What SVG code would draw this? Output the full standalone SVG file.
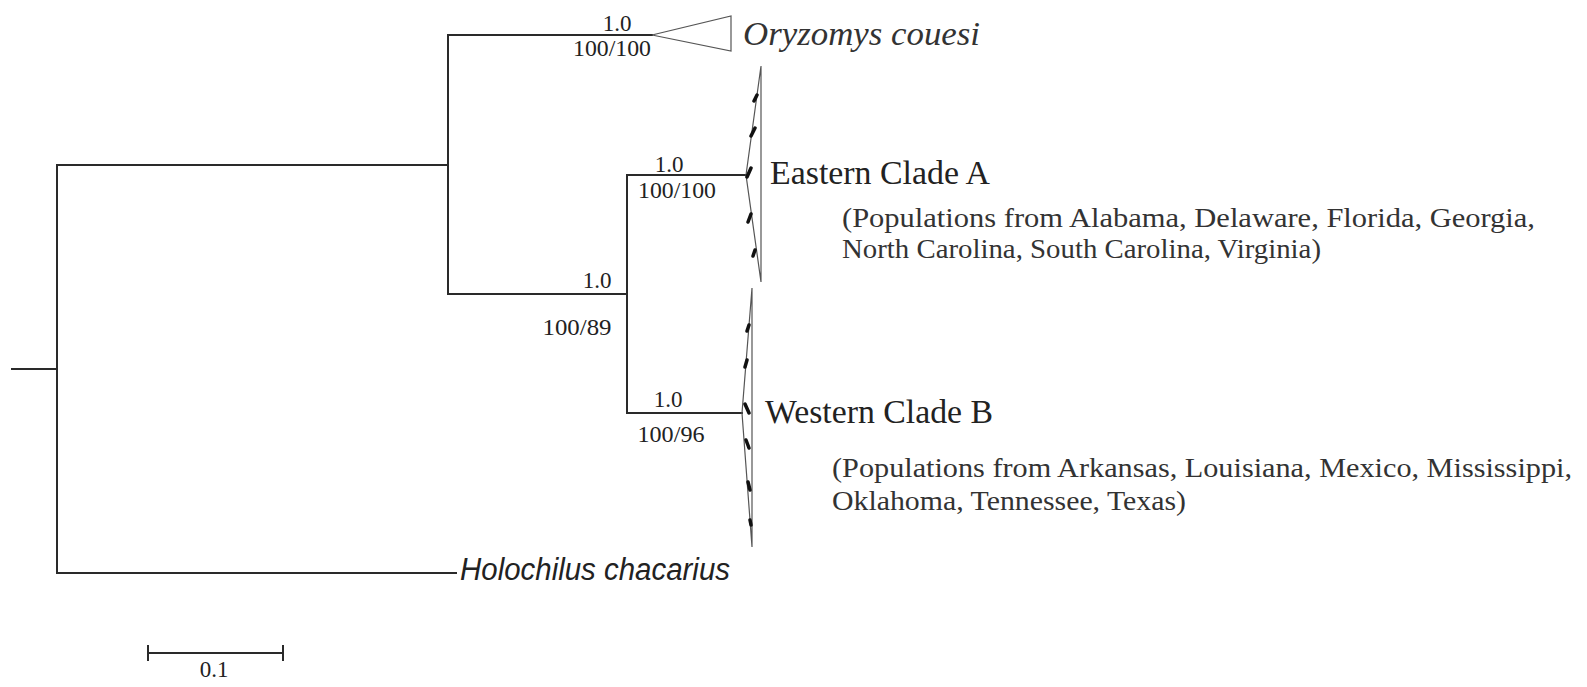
<svg xmlns="http://www.w3.org/2000/svg" width="1587" height="687" viewBox="0 0 1587 687">
  <style>
    .br { stroke: #2a2a2a; stroke-width: 2; fill: none; stroke-linecap: square; }
    .tri { stroke: #555; stroke-width: 1.2; fill: none; }
    .mk { stroke: #111; stroke-width: 3.5; stroke-linecap: round; fill: none; }
    .sup { font-family: "Liberation Serif", "Times New Roman", serif; font-size: 23px; fill: #222; }
    .clade { font-family: "Liberation Serif", "Times New Roman", serif; font-size: 34px; fill: #222; }
    .pop { font-family: "Liberation Serif", "Times New Roman", serif; font-size: 27px; fill: #333; }
    .tax { font-family: "Liberation Serif", "Times New Roman", serif; font-style: italic; font-size: 33px; fill: #333; }
    .taxs { font-family: "Liberation Sans", Arial, sans-serif; font-style: italic; font-size: 31px; fill: #222; }
  </style>
  <rect width="1587" height="687" fill="#ffffff"/>

  <g id="connectors">
    <line class="br" x1="12" y1="369" x2="57" y2="369"/>
    <line class="br" x1="57" y1="165" x2="57" y2="573"/>
    <line class="br" x1="57" y1="165" x2="448" y2="165"/>
    <line class="br" x1="57" y1="573" x2="456" y2="573"/>
    <line class="br" x1="448" y1="35" x2="448" y2="294"/>
    <line class="br" x1="448" y1="35" x2="652" y2="35"/>
    <line class="br" x1="448" y1="294" x2="627" y2="294"/>
    <line class="br" x1="627" y1="175" x2="627" y2="413"/>
    <line class="br" x1="627" y1="175" x2="746" y2="175"/>
    <line class="br" x1="627" y1="413" x2="742" y2="413"/>
  </g>

  <g id="node-oryzomys">
    <polygon class="tri" points="652,35 731,16 731,51"/>
    <text class="tax" x="743" y="45" textLength="237" lengthAdjust="spacingAndGlyphs">Oryzomys couesi</text>
  </g>
  <g id="label-oryzomys-support">
    <text class="sup" x="617" y="31" text-anchor="middle">1.0</text>
    <text class="sup" x="612" y="56" text-anchor="middle" textLength="78" lengthAdjust="spacingAndGlyphs">100/100</text>
  </g>

  <g id="node-eastern">
    <polygon class="tri" points="746,175 761,66 761,282"/>
    <path class="mk" d="M757,95 l-3,6 M755,128 l-4,8 M751,168 l-4,9 M751,214 l-3,8 M755,250 l-2,6"/>
    <text class="clade" x="770" y="184" textLength="220" lengthAdjust="spacingAndGlyphs">Eastern Clade A</text>
    <text class="pop" x="842" y="227" textLength="693" lengthAdjust="spacingAndGlyphs">(Populations from Alabama, Delaware, Florida, Georgia,</text>
    <text class="pop" x="842" y="258" textLength="479" lengthAdjust="spacingAndGlyphs">North Carolina, South Carolina, Virginia)</text>
  </g>
  <g id="label-eastern-support">
    <text class="sup" x="669" y="172" text-anchor="middle">1.0</text>
    <text class="sup" x="677" y="198" text-anchor="middle" textLength="78" lengthAdjust="spacingAndGlyphs">100/100</text>
  </g>

  <g id="node-western">
    <polygon class="tri" points="742,413 752,288 752,547"/>
    <path class="mk" d="M749,325 l-2,6 M747,360 l-2,7 M745,404 l4,9 M746,440 l3,8 M748,482 l2,8 M750,520 l1,5"/>
    <text class="clade" x="765" y="423" textLength="228" lengthAdjust="spacingAndGlyphs">Western Clade B</text>
    <text class="pop" x="832" y="477" textLength="740" lengthAdjust="spacingAndGlyphs">(Populations from Arkansas, Louisiana, Mexico, Mississippi,</text>
    <text class="pop" x="832" y="510" textLength="354" lengthAdjust="spacingAndGlyphs">Oklahoma, Tennessee, Texas)</text>
  </g>
  <g id="label-western-support">
    <text class="sup" x="668" y="407" text-anchor="middle">1.0</text>
    <text class="sup" x="671" y="442" text-anchor="middle" textLength="67" lengthAdjust="spacingAndGlyphs">100/96</text>
  </g>

  <g id="label-inner-support">
    <text class="sup" x="597" y="288" text-anchor="middle">1.0</text>
    <text class="sup" x="577" y="335" text-anchor="middle" textLength="69" lengthAdjust="spacingAndGlyphs">100/89</text>
  </g>

  <g id="node-holochilus">
    <text class="taxs" x="460" y="580" textLength="270" lengthAdjust="spacingAndGlyphs">Holochilus chacarius</text>
  </g>

  <g id="scale-bar">
    <line class="br" x1="148" y1="653" x2="283" y2="653"/>
    <line class="br" x1="148" y1="646" x2="148" y2="660"/>
    <line class="br" x1="283" y1="646" x2="283" y2="660"/>
    <text class="sup" x="214" y="677" text-anchor="middle" font-size="20">0.1</text>
  </g>
</svg>
